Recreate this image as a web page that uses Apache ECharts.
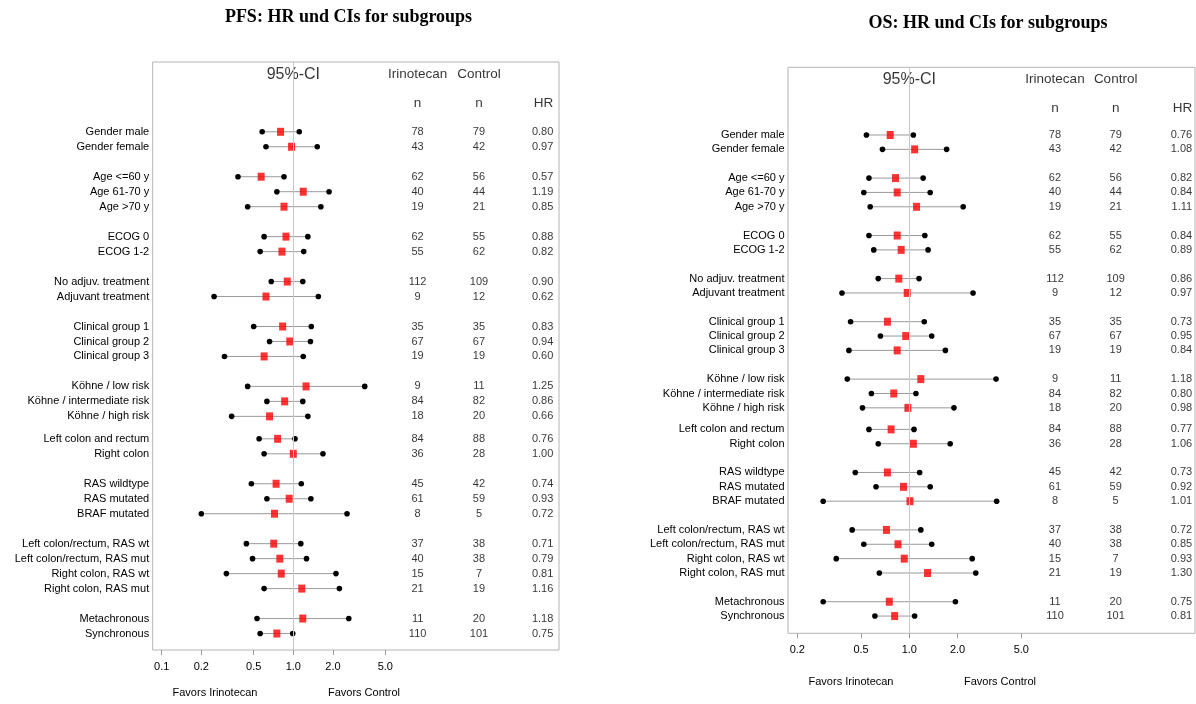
<!DOCTYPE html>
<html>
<head>
<meta charset="utf-8">
<script src="https://cdn.jsdelivr.net/npm/echarts@6/dist/echarts.min.js"></script>
<style>
html,body{margin:0;padding:0;background:#fff;}
#chart{width:1196px;height:704px;}
</style>
</head>
<body>
<div id="chart"></div>
<script>
// ---------- data ----------
const rowLabels = [
  'Gender male','Gender female',
  'Age <=60 y','Age 61-70 y','Age >70 y',
  'ECOG 0','ECOG 1-2',
  'No adjuv. treatment','Adjuvant treatment',
  'Clinical group 1','Clinical group 2','Clinical group 3',
  'Köhne / low risk','Köhne / intermediate risk','Köhne / high risk',
  'Left colon and rectum','Right colon',
  'RAS wildtype','RAS mutated','BRAF mutated',
  'Left colon/rectum, RAS wt','Left colon/rectum, RAS mut','Right colon, RAS wt','Right colon, RAS mut',
  'Metachronous','Synchronous'
];
const groupSizes = [2,3,2,2,3,3,2,3,4,2];

const pfsNIri = [78,43,62,40,19,62,55,112,9,35,67,19,9,84,18,84,36,45,61,8,37,40,15,21,11,110];
const pfsNCtl = [79,42,56,44,21,55,62,109,12,35,67,19,11,82,20,88,28,42,59,5,38,38,7,19,20,101];
const pfsHR   = [0.80,0.97,0.57,1.19,0.85,0.88,0.82,0.90,0.62,0.83,0.94,0.60,1.25,0.86,0.66,0.76,1.00,0.74,0.93,0.72,0.71,0.79,0.81,1.16,1.18,0.75];
const pfsLo   = [0.58,0.62,0.38,0.75,0.45,0.60,0.56,0.68,0.25,0.50,0.66,0.30,0.45,0.63,0.34,0.55,0.60,0.48,0.63,0.20,0.44,0.49,0.31,0.60,0.53,0.56];
const pfsHi   = [1.11,1.52,0.85,1.87,1.62,1.29,1.20,1.18,1.55,1.37,1.35,1.19,3.49,1.18,1.29,1.03,1.68,1.15,1.36,2.56,1.14,1.26,2.11,2.24,2.64,0.99];

const osNIri = [78,43,62,40,19,62,55,112,9,35,67,19,9,84,18,84,36,45,61,8,37,40,15,21,11,110];
const osNCtl = [79,42,56,44,21,55,62,109,12,35,67,19,11,82,20,88,28,42,59,5,38,38,7,19,20,101];
const osHR   = [0.76,1.08,0.82,0.84,1.11,0.84,0.89,0.86,0.97,0.73,0.95,0.84,1.18,0.80,0.98,0.77,1.06,0.73,0.92,1.01,0.72,0.85,0.93,1.30,0.75,0.81];
const osLo   = [0.54,0.68,0.56,0.52,0.57,0.56,0.60,0.64,0.38,0.43,0.66,0.42,0.41,0.58,0.51,0.56,0.64,0.46,0.62,0.29,0.44,0.52,0.35,0.65,0.29,0.61];
const osHi   = [1.06,1.71,1.22,1.35,2.17,1.25,1.31,1.15,2.50,1.24,1.38,1.68,3.48,1.10,1.90,1.07,1.80,1.16,1.35,3.51,1.18,1.38,2.47,2.60,1.94,1.08];

const pfsTicks = [0.1,0.2,0.5,1.0,2.0,5.0];
const osTicks  = [0.2,0.5,1.0,2.0,5.0];

const pfsTitle = 'PFS: HR und CIs for subgroups';
const osTitle  = 'OS: HR und CIs for subgroups';
const ciHeader = '95%-CI';
const colHeaders = ['Irinotecan','Control'];
const nHeader = 'n';
const hrHeader = 'HR';
const favorsLeft = 'Favors Irinotecan';
const favorsRight = 'Favors Control';

// ---------- layout ----------
const groupGaps = [2,2,2,2,2,1.5,2,2,2];
const rowPos = [];
(function(){
  let p = 0;
  groupSizes.forEach((n, g) => {
    if (g > 0) p += groupGaps[g-1] - 1;
    for (let k = 0; k < n; k++) { rowPos.push(p); p += 1; }
  });
})();
const labelMap = {};
rowPos.forEach((p, i) => { labelMap[p.toFixed(2)] = rowLabels[i]; });

const FONT = '"Liberation Sans", Arial, sans-serif';
const SERIF = '"Liberation Serif", "Times New Roman", serif';

const panels = [
  { grid:{left:152.7, top:62, width:406.3, height:588}, xr:[-1.0684, 2.019], yr:[-4.66, 34.6],
    ticks:pfsTicks, n1:pfsNIri, n2:pfsNCtl, hr:pfsHR, lo:pfsLo, hi:pfsHi, cols:[0.652,0.803,0.986] },
  { grid:{left:788, top:67.3, width:407, height:566}, xr:[-0.7572, 1.7834], yr:[-4.714, 34.70],
    ticks:osTicks, n1:osNIri, n2:osNCtl, hr:osHR, lo:osLo, hi:osHi, cols:[0.656,0.805,0.993] }
];

const grids = [], xAxes = [], yAxes = [], series = [];
panels.forEach((P, pi) => {
  grids.push(Object.assign({show:true, borderColor:'#b4b4b4', borderWidth:1, backgroundColor:'transparent'}, P.grid));
  const logTicks = P.ticks.map(t => Math.log10(t));
  // main log-scaled axis (index pi*2)
  xAxes.push({
    type:'value', gridIndex:pi, position:'bottom', min:P.xr[0], max:P.xr[1],
    axisLine:{show:false, onZero:false},
    splitLine:{show:false},
    axisTick:{show:true, length:5, customValues:logTicks, lineStyle:{color:'#9a9a9a'}},
    axisLabel:{show:true, customValues:logTicks, margin:11, fontSize:11, fontFamily:FONT, color:'#000',
      formatter: v => Math.pow(10, v).toFixed(1)}
  });
  // table axis (index pi*2+1)
  xAxes.push({type:'value', gridIndex:pi, position:'top', min:0, max:1, show:false, axisLine:{onZero:false}});
  yAxes.push({
    type:'value', gridIndex:pi, inverse:true, min:P.yr[0], max:P.yr[1],
    axisLine:{show:false, onZero:false}, axisTick:{show:false}, splitLine:{show:false},
    axisLabel:{show:true, customValues:rowPos, margin:3.5, fontSize:11, fontFamily:FONT, color:'#000',
      formatter: v => labelMap[v.toFixed(2)] || ''}
  });
  const xi = pi*2, ti = pi*2+1, yi = pi;
  // reference line at HR=1
  series.push({
    type:'scatter', xAxisIndex:xi, yAxisIndex:yi, data:[], z:1, silent:true,
    markLine:{silent:true, symbol:['none','none'], label:{show:false}, animation:false,
      lineStyle:{color:'#c8c8c8', width:1, type:'solid'}, data:[{xAxis:0}]}
  });
  // CI lines with end dots
  series.push({
    type:'custom', xAxisIndex:xi, yAxisIndex:yi, z:2, silent:true,
    encode:{x:[0,1], y:2},
    data: rowPos.map((p,i) => [Math.log10(P.lo[i]), Math.log10(P.hi[i]), p]),
    renderItem:(params, api) => {
      const a = api.coord([api.value(0), api.value(2)]);
      const b = api.coord([api.value(1), api.value(2)]);
      return {type:'group', children:[
        {type:'line', shape:{x1:a[0], y1:a[1], x2:b[0], y2:b[1]}, style:{stroke:'#9a9a9a', lineWidth:1}},
        {type:'circle', shape:{cx:a[0], cy:a[1], r:2.8}, style:{fill:'#000'}},
        {type:'circle', shape:{cx:b[0], cy:b[1], r:2.8}, style:{fill:'#000'}}
      ]};
    }
  });
  // HR point estimates
  series.push({
    type:'scatter', xAxisIndex:xi, yAxisIndex:yi, z:3, silent:true,
    symbol:'rect', symbolSize:[7,8], itemStyle:{color:'#ff0000'},
    data: rowPos.map((p,i) => [Math.log10(P.hr[i]), p])
  });
  // header "95%-CI"
  series.push({
    type:'scatter', xAxisIndex:xi, yAxisIndex:yi, z:4, silent:true, symbolSize:0,
    label:{show:true, position:'inside', formatter:'{b}', fontSize:16, fontFamily:FONT, color:'#000'},
    data:[{name:ciHeader, value:[0, -3.85]}]
  });
  // table headers
  series.push({
    type:'scatter', xAxisIndex:ti, yAxisIndex:yi, z:4, silent:true, symbolSize:0,
    label:{show:true, position:'inside', formatter:'{b}', fontSize:13.5, fontFamily:FONT, color:'#000'},
    data:[
      {name:colHeaders[0], value:[P.cols[0], -3.85]},
      {name:colHeaders[1], value:[P.cols[1], -3.85]},
      {name:nHeader, value:[P.cols[0], -1.88]},
      {name:nHeader, value:[P.cols[1], -1.88]}
    ]
  });
  series.push({
    type:'scatter', xAxisIndex:ti, yAxisIndex:yi, z:4, silent:true, symbolSize:0,
    label:{show:true, position:'left', distance:0, formatter:'{b}', fontSize:13.5, fontFamily:FONT, color:'#000'},
    data:[{name:hrHeader, value:[P.cols[2], -1.88]}]
  });
  // n columns
  [P.n1, P.n2].forEach((arr, c) => {
    series.push({
      type:'scatter', xAxisIndex:ti, yAxisIndex:yi, z:4, silent:true, symbolSize:0,
      label:{show:true, position:'inside', formatter:'{b}', fontSize:11, fontFamily:FONT, color:'#000'},
      data: rowPos.map((p,i) => ({name:String(arr[i]), value:[P.cols[c], p]}))
    });
  });
  // HR column
  series.push({
    type:'scatter', xAxisIndex:ti, yAxisIndex:yi, z:4, silent:true, symbolSize:0,
    label:{show:true, position:'left', distance:0, formatter:'{b}', fontSize:11, fontFamily:FONT, color:'#000'},
    data: rowPos.map((p,i) => ({name:P.hr[i].toFixed(2), value:[P.cols[2], p]}))
  });
});

const txt = (text, x, y, size, font, weight) => ({
  type:'text', x:x, y:y, silent:true,
  style:{text:text, x:0, y:0, align:'center', verticalAlign:'middle', fontSize:size, fontFamily:font, fontWeight:weight||'normal', fill:'#000'}
});

const chart = echarts.init(document.getElementById('chart'), null, {renderer:'canvas'});
chart.setOption({
  animation:false,
  backgroundColor:'#fff',
  grid:grids, xAxis:xAxes, yAxis:yAxes, series:series,
  graphic:[
    txt(pfsTitle, 348.5, 17, 18, SERIF, 'bold'),
    txt(osTitle, 988, 23.5, 18, SERIF, 'bold'),
    txt(favorsLeft, 215, 692.7, 11, FONT),
    txt(favorsRight, 364, 692.7, 11, FONT),
    txt(favorsLeft, 851, 681.7, 11, FONT),
    txt(favorsRight, 1000, 681.7, 11, FONT)
  ]
});
</script>
</body>
</html>
